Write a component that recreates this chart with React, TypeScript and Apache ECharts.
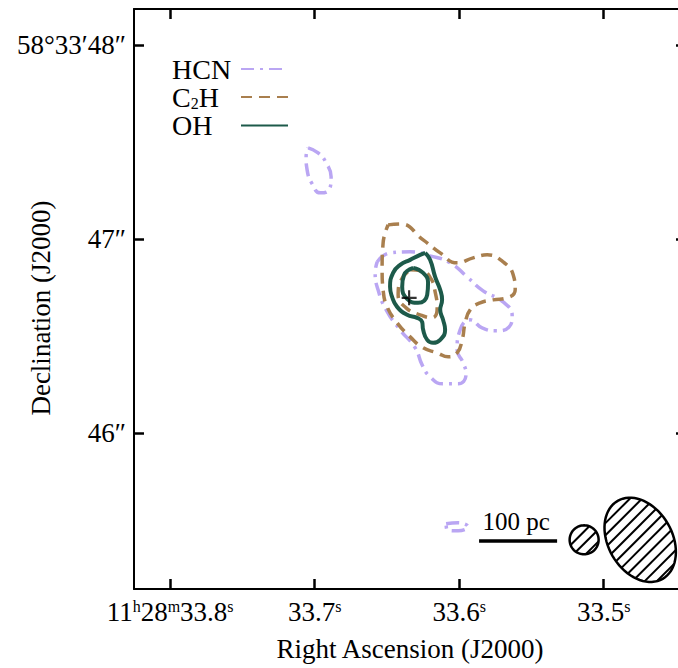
import React, { useEffect, useRef } from "react";
import * as echarts from "echarts";

// Axis ticks (RA in seconds of time, Dec in arcseconds)
const RA_TICKS = [33.8, 33.7, 33.6, 33.5];
const DEC_TICKS = [48, 47, 46];

// Contours: [RA (s), Dec (")]; ["-", "-"] separates closed contours
const GAP: [string, string] = ["-", "-"];

const HCN_SMALL: number[][] = [
  [33.7045, 47.4691], [33.6976, 47.4433], [33.692, 47.3918], [33.6886, 47.3196],
  [33.69, 47.2526], [33.6962, 47.2371], [33.7017, 47.2835], [33.7052, 47.3557],
  [33.7059, 47.4227], [33.7045, 47.4691],
];
const HCN_MAIN: number[][] = [
  [33.6567, 46.8814], [33.6478, 46.9278], [33.6339, 46.933], [33.6201, 46.9124],
  [33.6062, 46.8763], [33.5945, 46.8041], [33.5834, 46.732], [33.5696, 46.6753],
  [33.5633, 46.6031], [33.5654, 46.5464], [33.5744, 46.5258], [33.5841, 46.5412],
  [33.5924, 46.5825], [33.5993, 46.5309], [33.6014, 46.4278], [33.5972, 46.3608],
  [33.5952, 46.3041], [33.6007, 46.2526], [33.6111, 46.2526], [33.6201, 46.2887],
  [33.6256, 46.3505], [33.6304, 46.4381], [33.6408, 46.5309], [33.6505, 46.634],
  [33.6561, 46.7371], [33.6581, 46.8247], [33.6567, 46.8814],
];
const HCN_BLOB: number[][] = [
  [33.609, 45.5309], [33.6007, 45.5361], [33.5938, 45.5155], [33.6007, 45.4948],
  [33.6083, 45.5], [33.609, 45.5309],
];

const C2H_OUTER: number[][] = [
  [33.6491, 47.0722], [33.6408, 47.0773], [33.6249, 46.9948], [33.6131, 46.9278],
  [33.6014, 46.8763], [33.5903, 46.9021], [33.5806, 46.9175], [33.5696, 46.8814],
  [33.5626, 46.8144], [33.5612, 46.7371], [33.5668, 46.6959], [33.5765, 46.6856],
  [33.5855, 46.6701], [33.5924, 46.634], [33.5958, 46.567], [33.5979, 46.4794],
  [33.6014, 46.4124], [33.6076, 46.3918], [33.6152, 46.4124], [33.6249, 46.4381],
  [33.6339, 46.4948], [33.6429, 46.567], [33.6498, 46.6495], [33.6526, 46.7371],
  [33.6533, 46.8402], [33.6526, 46.9794], [33.6491, 47.0722],
];
const C2H_INNER: number[][] = [
  [33.6339, 46.8402], [33.6256, 46.8351], [33.6194, 46.7938], [33.6166, 46.7268],
  [33.6152, 46.6443], [33.6187, 46.5928], [33.627, 46.6082], [33.6367, 46.6443],
  [33.6422, 46.7113], [33.6401, 46.7887], [33.6339, 46.8402],
];

const OH_OUTER: number[][] = [
  [33.6235, 46.9278], [33.6201, 46.8918], [33.6166, 46.8041], [33.6131, 46.7371],
  [33.6118, 46.6856], [33.6131, 46.634], [33.6111, 46.5825], [33.6097, 46.5309],
  [33.6131, 46.4794], [33.618, 46.4639], [33.6221, 46.4794], [33.6249, 46.5309],
  [33.6256, 46.5722], [33.6291, 46.5928], [33.636, 46.6082], [33.6429, 46.6495],
  [33.6464, 46.701], [33.6478, 46.7526], [33.6457, 46.8247], [33.6408, 46.866],
  [33.6339, 46.8918], [33.627, 46.9175], [33.6235, 46.9278],
];
const OH_INNER: number[][] = [
  [33.6318, 46.8505], [33.6249, 46.8247], [33.6215, 46.7732], [33.6221, 46.7113],
  [33.6284, 46.6701], [33.636, 46.6907], [33.6394, 46.7526], [33.6381, 46.8144],
  [33.6318, 46.8505],
];

// Reference position marker
const CROSS: number[][] = [[33.6346, 46.696]];

// Beams: [RA, Dec, semi-major ("), semi-minor ("), position angle (deg)]
const BEAMS: number[][] = [
  [33.5135, 45.4485, 0.0747, 0.0747, 0],
  [33.4747, 45.4485, 0.232, 0.165, 30],
];

// Scale bar: [RA start, RA end, Dec]
const SCALE_BAR: number[][] = [[33.5862, 33.5322, 45.443]];
const SCALE_LABEL = "100 pc";

const FONT = '"Liberation Serif", "DejaVu Serif", serif';
const COLORS = { HCN: "#baa6f3", C2H: "#a97f4e", OH: "#1d5a4a" };

const joinContours = (...parts: number[][][]) => {
  const out: any[] = [];
  parts.forEach((p, i) => {
    if (i > 0) out.push(GAP);
    out.push(...p);
  });
  return out;
};

export default function App() {
  const ref = useRef<HTMLDivElement>(null);

  useEffect(() => {
    if (!ref.current) return;
    const chart = echarts.init(ref.current, null, { renderer: "svg" });

    const axisLine = { show: true, lineStyle: { color: "#000", width: 2 } };
    const raTick = {
      show: true, inside: true, length: 10, customValues: RA_TICKS,
      lineStyle: { color: "#000", width: 2.5 },
    };
    const decTick = {
      show: true, inside: true, length: 10, customValues: DEC_TICKS,
      lineStyle: { color: "#000", width: 2.5 },
    };
    const xRange = { min: 33.443, max: 33.825, inverse: true };
    const yRange = { min: 45.195, max: 48.185 };

    const beamRender = (params: any, api: any) => {
      const c = api.coord([api.value(0), api.value(1)]);
      const pxPerArcsec = api.size([0, 1])[1];
      const a = api.value(2) * pxPerArcsec;
      const b = api.value(3) * pxPerArcsec;
      const phi = (api.value(4) * Math.PI) / 180;
      const e1 = [Math.cos(phi), -Math.sin(phi)]; // minor axis
      const e2 = [Math.sin(phi), Math.cos(phi)]; // major axis
      const pts: number[][] = [];
      for (let k = 0; k < 72; k++) {
        const t = (k / 72) * Math.PI * 2;
        const u = b * Math.cos(t);
        const v = a * Math.sin(t);
        pts.push([c[0] + u * e1[0] + v * e2[0], c[1] + u * e1[1] + v * e2[1]]);
      }
      // diagonal hatching clipped to the ellipse
      const dir = [Math.SQRT1_2, -Math.SQRT1_2];
      const nrm = [Math.SQRT1_2, Math.SQRT1_2];
      const spacing = 8.6;
      const lines: any[] = [];
      const du = dir[0] * e1[0] + dir[1] * e1[1];
      const dv = dir[0] * e2[0] + dir[1] * e2[1];
      const nu = nrm[0] * e1[0] + nrm[1] * e1[1];
      const nv = nrm[0] * e2[0] + nrm[1] * e2[1];
      for (let s = -a; s <= a; s += spacing) {
        const u0 = s * nu;
        const v0 = s * nv;
        const A = (du * du) / (b * b) + (dv * dv) / (a * a);
        const B = 2 * ((u0 * du) / (b * b) + (v0 * dv) / (a * a));
        const C = (u0 * u0) / (b * b) + (v0 * v0) / (a * a) - 1;
        const disc = B * B - 4 * A * C;
        if (disc <= 0) continue;
        const t1 = (-B - Math.sqrt(disc)) / (2 * A);
        const t2 = (-B + Math.sqrt(disc)) / (2 * A);
        const bx = c[0] + s * nrm[0];
        const by = c[1] + s * nrm[1];
        lines.push({
          type: "line",
          shape: {
            x1: bx + t1 * dir[0], y1: by + t1 * dir[1],
            x2: bx + t2 * dir[0], y2: by + t2 * dir[1],
          },
          style: { stroke: "#000", lineWidth: 2 },
        });
      }
      return {
        type: "group",
        children: [
          ...lines,
          {
            type: "polygon",
            shape: { points: pts },
            style: { fill: "none", stroke: "#000", lineWidth: 2.5 },
          },
        ],
      };
    };

    const scaleRender = (params: any, api: any) => {
      const p1 = api.coord([api.value(0), api.value(2)]);
      const p2 = api.coord([api.value(1), api.value(2)]);
      return {
        type: "group",
        children: [
          {
            type: "line",
            shape: { x1: p1[0], y1: p1[1], x2: p2[0], y2: p2[1] },
            style: { stroke: "#000", lineWidth: 3.5 },
          },
          {
            type: "text",
            style: {
              text: SCALE_LABEL,
              x: (p1[0] + p2[0]) / 2 - 2,
              y: p1[1] - 7,
              fill: "#000",
              font: `25px ${FONT}`,
              align: "center",
              verticalAlign: "bottom",
            },
          },
        ],
      };
    };

    const raFormatter = (v: number) => {
      const s = v.toFixed(1);
      if (Math.abs(v - 33.8) < 1e-6) {
        return `{n|11}{s|h}{n|28}{s|m}{n|${s}}{s|s}`;
      }
      return `{n|${s}}{s|s}`;
    };
    const decFormatter = (v: number) =>
      Math.abs(v - 48) < 1e-6 ? "58°33\u203248\u2033" : `${Math.round(v)}\u2033`;

    chart.setOption({
      animation: false,
      backgroundColor: "#fff",
      textStyle: { fontFamily: FONT },
      grid: {
        left: 134, top: 9, width: 552, height: 580,
        containLabel: false, outerBoundsMode: "none",
      },
      legend: {
        data: ["HCN", "C2H", "OH"],
        left: 167,
        top: 50,
        orient: "vertical",
        align: "right",
        itemWidth: 47,
        itemHeight: 14,
        itemGap: 0,
        selectedMode: false,
        itemStyle: { opacity: 0 },
        formatter: (name: string) =>
          name === "C2H" ? "{n|C}{sub|2}{n|H}" : `{n|${name}}`,
        textStyle: {
          width: 64,
          rich: {
            n: {
              fontSize: 28, lineHeight: 29, fontFamily: FONT, color: "#000",
              align: "left",
            },
            sub: {
              fontSize: 16, lineHeight: 12, verticalAlign: "bottom",
              fontFamily: FONT, color: "#000", align: "left",
            },
          },
        },
      },
      xAxis: [
        {
          type: "value", position: "bottom", ...xRange,
          axisLine, axisTick: raTick, splitLine: { show: false },
          axisLabel: {
            customValues: RA_TICKS, margin: 9, formatter: raFormatter,
            rich: {
              n: { fontSize: 27, lineHeight: 28, fontFamily: FONT, color: "#000" },
              s: {
                fontSize: 16, lineHeight: 15, verticalAlign: "top",
                fontFamily: FONT, color: "#000",
              },
            },
          },
          name: "Right Ascension (J2000)",
          nameLocation: "middle",
          nameGap: 46,
          nameTextStyle: { fontSize: 27, fontFamily: FONT, color: "#000" },
        },
        {
          type: "value", position: "top", ...xRange,
          axisLine, axisTick: raTick, splitLine: { show: false },
          axisLabel: { show: false },
        },
      ],
      yAxis: [
        {
          type: "value", position: "left", ...yRange,
          axisLine, axisTick: decTick, splitLine: { show: false },
          axisLabel: {
            customValues: DEC_TICKS, margin: 8, formatter: decFormatter,
            fontSize: 27, fontFamily: FONT, color: "#000",
          },
          name: "Declination (J2000)",
          nameLocation: "middle",
          nameGap: 80,
          nameMoveOverlap: false,
          nameRotate: 90,
          nameTextStyle: {
            fontSize: 27, fontFamily: FONT, color: "#000", padding: [0, 18, 0, 0],
          },
        },
        {
          type: "value", position: "right", ...yRange,
          axisLine, axisTick: decTick, splitLine: { show: false },
          axisLabel: { show: false },
        },
      ],
      series: [
        {
          name: "HCN", type: "line", symbol: "none", smooth: 0.5,
          connectNulls: false,
          data: joinContours(HCN_SMALL, HCN_MAIN, HCN_BLOB),
          lineStyle: { color: COLORS.HCN, width: 3.5, type: [13, 6, 3, 6] },
          itemStyle: { color: COLORS.HCN },
          z: 2,
        },
        {
          name: "C2H", type: "line", symbol: "none", smooth: 0.5,
          connectNulls: false,
          data: joinContours(C2H_OUTER, C2H_INNER),
          lineStyle: { color: COLORS.C2H, width: 3.5, type: [11, 7] },
          itemStyle: { color: COLORS.C2H },
          z: 3,
        },
        {
          name: "OH", type: "line", symbol: "none", smooth: 0.5,
          connectNulls: false,
          data: joinContours(OH_OUTER, OH_INNER),
          lineStyle: { color: COLORS.OH, width: 4 },
          itemStyle: { color: COLORS.OH },
          z: 4,
        },
        {
          type: "scatter", data: CROSS, z: 5,
          symbol: "path://M-1,-7h2v14h-2zM-7,-1h14v2h-14z",
          symbolSize: 15,
          itemStyle: { color: "#000" },
        },
        {
          type: "custom", data: BEAMS, renderItem: beamRender,
          encode: { x: 0, y: 1 }, z: 5,
        },
        {
          type: "custom", data: SCALE_BAR, renderItem: scaleRender,
          encode: { x: [0, 1], y: 2 }, z: 5,
        },
      ],
    });

    return () => chart.dispose();
  }, []);

  return (
    <div
      ref={ref}
      style={{ position: "fixed", left: 0, top: 0, width: 678, height: 668 }}
    />
  );
}
